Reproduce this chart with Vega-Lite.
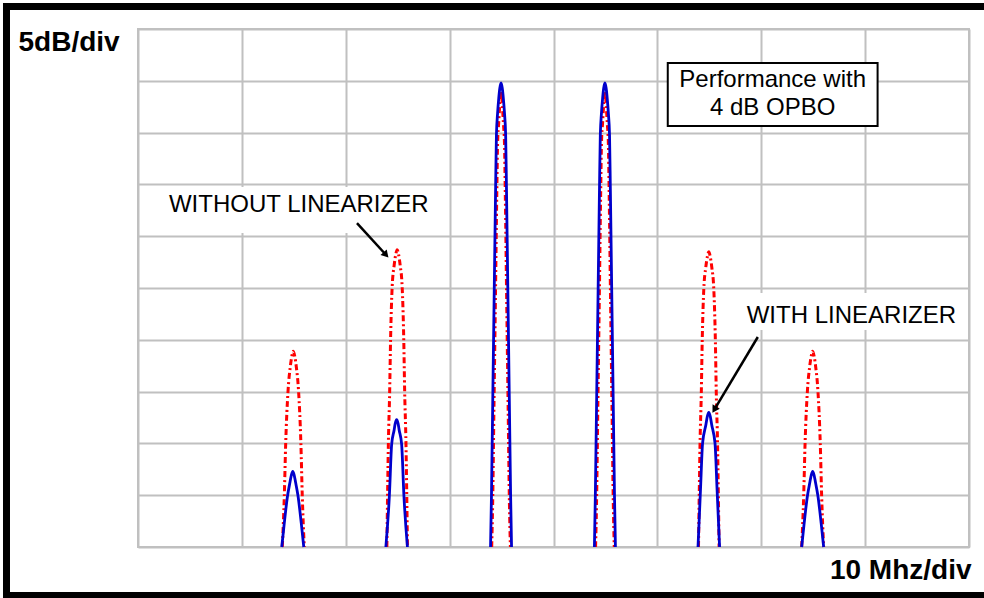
{
  "$schema": "https://vega.github.io/schema/vega-lite/v6.json",
  "width": 831,
  "height": 518,
  "autosize": {"type": "none"},
  "padding": {"left": 138, "top": 29, "right": 15, "bottom": 51},
  "background": "white",
  "config": {
    "font": "Liberation Sans",
    "view": {"stroke": "#c0c0c0", "strokeWidth": 2},
    "axis": {"labels": false, "ticks": false, "domain": false, "grid": true, "gridColor": "#c0c0c0", "gridWidth": 2, "gridOpacity": 1}
  },
  "datasets": {
    "spec": [
      {"s":"r","p":"r1","f":13.891,"db":0},{"s":"r","p":"r1","f":14.084,"db":4.9},{"s":"r","p":"r1","f":14.219,"db":10},{"s":"r","p":"r1","f":14.44,"db":15},{"s":"r","p":"r1","f":14.661,"db":17.4},{"s":"r","p":"r1","f":14.806,"db":18.4},{"s":"r","p":"r1","f":14.95,"db":18.9},{"s":"r","p":"r1","f":15.094,"db":18.4},{"s":"r","p":"r1","f":15.239,"db":17.4},{"s":"r","p":"r1","f":15.46,"db":15},{"s":"r","p":"r1","f":15.681,"db":10},{"s":"r","p":"r1","f":15.816,"db":4.9},{"s":"r","p":"r1","f":16.009,"db":0},
      {"s":"r","p":"r2","f":23.959,"db":0},{"s":"r","p":"r2","f":24.036,"db":5.7},{"s":"r","p":"r2","f":24.103,"db":10},{"s":"r","p":"r2","f":24.228,"db":15},{"s":"r","p":"r2","f":24.315,"db":20},{"s":"r","p":"r2","f":24.469,"db":25.1},{"s":"r","p":"r2","f":24.661,"db":27.2},{"s":"r","p":"r2","f":24.806,"db":28.2},{"s":"r","p":"r2","f":24.95,"db":28.7},{"s":"r","p":"r2","f":25.094,"db":28.2},{"s":"r","p":"r2","f":25.239,"db":27.2},{"s":"r","p":"r2","f":25.431,"db":25.1},{"s":"r","p":"r2","f":25.585,"db":20},{"s":"r","p":"r2","f":25.672,"db":15},{"s":"r","p":"r2","f":25.797,"db":10},{"s":"r","p":"r2","f":25.864,"db":5.7},{"s":"r","p":"r2","f":25.941,"db":0},
      {"s":"r","p":"r3","f":34.05,"db":0},{"s":"r","p":"r3","f":34.14,"db":4},{"s":"r","p":"r3","f":34.275,"db":14},{"s":"r","p":"r3","f":34.41,"db":24},{"s":"r","p":"r3","f":34.54,"db":34},{"s":"r","p":"r3","f":34.62,"db":39},{"s":"r","p":"r3","f":34.73,"db":41},{"s":"r","p":"r3","f":34.85,"db":43},{"s":"r","p":"r3","f":34.95,"db":44},{"s":"r","p":"r3","f":35.05,"db":43},{"s":"r","p":"r3","f":35.17,"db":41},{"s":"r","p":"r3","f":35.28,"db":39},{"s":"r","p":"r3","f":35.36,"db":34},{"s":"r","p":"r3","f":35.49,"db":24},{"s":"r","p":"r3","f":35.625,"db":14},{"s":"r","p":"r3","f":35.76,"db":4},{"s":"r","p":"r3","f":35.85,"db":0},
      {"s":"r","p":"r4","f":44.05,"db":0},{"s":"r","p":"r4","f":44.14,"db":4},{"s":"r","p":"r4","f":44.275,"db":14},{"s":"r","p":"r4","f":44.41,"db":24},{"s":"r","p":"r4","f":44.54,"db":34},{"s":"r","p":"r4","f":44.62,"db":39},{"s":"r","p":"r4","f":44.73,"db":41},{"s":"r","p":"r4","f":44.85,"db":43},{"s":"r","p":"r4","f":44.95,"db":44},{"s":"r","p":"r4","f":45.05,"db":43},{"s":"r","p":"r4","f":45.17,"db":41},{"s":"r","p":"r4","f":45.28,"db":39},{"s":"r","p":"r4","f":45.36,"db":34},{"s":"r","p":"r4","f":45.49,"db":24},{"s":"r","p":"r4","f":45.625,"db":14},{"s":"r","p":"r4","f":45.76,"db":4},{"s":"r","p":"r4","f":45.85,"db":0},
      {"s":"r","p":"r5","f":53.959,"db":0},{"s":"r","p":"r5","f":54.036,"db":5.5},{"s":"r","p":"r5","f":54.103,"db":9.8},{"s":"r","p":"r5","f":54.228,"db":14.8},{"s":"r","p":"r5","f":54.315,"db":19.8},{"s":"r","p":"r5","f":54.469,"db":24.9},{"s":"r","p":"r5","f":54.661,"db":27},{"s":"r","p":"r5","f":54.806,"db":28},{"s":"r","p":"r5","f":54.95,"db":28.5},{"s":"r","p":"r5","f":55.094,"db":28},{"s":"r","p":"r5","f":55.239,"db":27},{"s":"r","p":"r5","f":55.431,"db":24.9},{"s":"r","p":"r5","f":55.585,"db":19.8},{"s":"r","p":"r5","f":55.672,"db":14.8},{"s":"r","p":"r5","f":55.797,"db":9.8},{"s":"r","p":"r5","f":55.864,"db":5.5},{"s":"r","p":"r5","f":55.941,"db":0},
      {"s":"r","p":"r6","f":63.891,"db":0},{"s":"r","p":"r6","f":64.084,"db":4.9},{"s":"r","p":"r6","f":64.219,"db":10},{"s":"r","p":"r6","f":64.44,"db":15},{"s":"r","p":"r6","f":64.661,"db":17.4},{"s":"r","p":"r6","f":64.806,"db":18.4},{"s":"r","p":"r6","f":64.95,"db":18.9},{"s":"r","p":"r6","f":65.094,"db":18.4},{"s":"r","p":"r6","f":65.239,"db":17.4},{"s":"r","p":"r6","f":65.46,"db":15},{"s":"r","p":"r6","f":65.681,"db":10},{"s":"r","p":"r6","f":65.816,"db":4.9},{"s":"r","p":"r6","f":66.009,"db":0},
      {"s":"b","p":"b1","f":13.841,"db":0},{"s":"b","p":"b1","f":14.082,"db":2.3},{"s":"b","p":"b1","f":14.39,"db":4.9},{"s":"b","p":"b1","f":14.64,"db":6.3},{"s":"b","p":"b1","f":14.756,"db":6.9},{"s":"b","p":"b1","f":14.9,"db":7.3},{"s":"b","p":"b1","f":15.044,"db":6.9},{"s":"b","p":"b1","f":15.16,"db":6.3},{"s":"b","p":"b1","f":15.41,"db":4.9},{"s":"b","p":"b1","f":15.718,"db":2.3},{"s":"b","p":"b1","f":15.959,"db":0},
      {"s":"b","p":"b2","f":23.861,"db":0},{"s":"b","p":"b2","f":24.197,"db":4.9},{"s":"b","p":"b2","f":24.419,"db":9.9},{"s":"b","p":"b2","f":24.659,"db":11.3},{"s":"b","p":"b2","f":24.756,"db":11.9},{"s":"b","p":"b2","f":24.9,"db":12.3},{"s":"b","p":"b2","f":25.044,"db":11.9},{"s":"b","p":"b2","f":25.141,"db":11.3},{"s":"b","p":"b2","f":25.381,"db":9.9},{"s":"b","p":"b2","f":25.603,"db":4.9},{"s":"b","p":"b2","f":25.939,"db":0},
      {"s":"b","p":"b3","f":33.939,"db":0},{"s":"b","p":"b3","f":34.026,"db":4.8},{"s":"b","p":"b3","f":34.161,"db":14.8},{"s":"b","p":"b3","f":34.296,"db":24.8},{"s":"b","p":"b3","f":34.43,"db":34.8},{"s":"b","p":"b3","f":34.507,"db":39.8},{"s":"b","p":"b3","f":34.613,"db":41.8},{"s":"b","p":"b3","f":34.729,"db":43.3},{"s":"b","p":"b3","f":34.835,"db":44.3},{"s":"b","p":"b3","f":34.95,"db":44.8},{"s":"b","p":"b3","f":35.065,"db":44.3},{"s":"b","p":"b3","f":35.171,"db":43.3},{"s":"b","p":"b3","f":35.287,"db":41.8},{"s":"b","p":"b3","f":35.393,"db":39.8},{"s":"b","p":"b3","f":35.47,"db":34.8},{"s":"b","p":"b3","f":35.604,"db":24.8},{"s":"b","p":"b3","f":35.739,"db":14.8},{"s":"b","p":"b3","f":35.874,"db":4.8},{"s":"b","p":"b3","f":35.961,"db":0},
      {"s":"b","p":"b4","f":43.939,"db":0},{"s":"b","p":"b4","f":44.026,"db":4.8},{"s":"b","p":"b4","f":44.161,"db":14.8},{"s":"b","p":"b4","f":44.296,"db":24.8},{"s":"b","p":"b4","f":44.43,"db":34.8},{"s":"b","p":"b4","f":44.507,"db":39.8},{"s":"b","p":"b4","f":44.613,"db":41.8},{"s":"b","p":"b4","f":44.729,"db":43.3},{"s":"b","p":"b4","f":44.835,"db":44.3},{"s":"b","p":"b4","f":44.95,"db":44.8},{"s":"b","p":"b4","f":45.065,"db":44.3},{"s":"b","p":"b4","f":45.171,"db":43.3},{"s":"b","p":"b4","f":45.287,"db":41.8},{"s":"b","p":"b4","f":45.393,"db":39.8},{"s":"b","p":"b4","f":45.47,"db":34.8},{"s":"b","p":"b4","f":45.604,"db":24.8},{"s":"b","p":"b4","f":45.739,"db":14.8},{"s":"b","p":"b4","f":45.874,"db":4.8},{"s":"b","p":"b4","f":45.961,"db":0},
      {"s":"b","p":"b5","f":53.911,"db":0},{"s":"b","p":"b5","f":54.15,"db":5.5},{"s":"b","p":"b5","f":54.35,"db":10},{"s":"b","p":"b5","f":54.67,"db":11.8},{"s":"b","p":"b5","f":54.806,"db":12.6},{"s":"b","p":"b5","f":54.95,"db":13},{"s":"b","p":"b5","f":55.094,"db":12.6},{"s":"b","p":"b5","f":55.23,"db":11.8},{"s":"b","p":"b5","f":55.55,"db":10},{"s":"b","p":"b5","f":55.75,"db":5.5},{"s":"b","p":"b5","f":55.989,"db":0},
      {"s":"b","p":"b6","f":63.891,"db":0},{"s":"b","p":"b6","f":64.132,"db":2.3},{"s":"b","p":"b6","f":64.44,"db":4.9},{"s":"b","p":"b6","f":64.69,"db":6.3},{"s":"b","p":"b6","f":64.806,"db":6.9},{"s":"b","p":"b6","f":64.95,"db":7.3},{"s":"b","p":"b6","f":65.094,"db":6.9},{"s":"b","p":"b6","f":65.21,"db":6.3},{"s":"b","p":"b6","f":65.46,"db":4.9},{"s":"b","p":"b6","f":65.768,"db":2.3},{"s":"b","p":"b6","f":66.009,"db":0}
    ],
    "frame": [{"x": -12.66, "x2": 85, "y": 52.17, "y2": -4.68}],
    "labelbg": [
      {"x": 2.31, "x2": 29.07, "y": 34.75, "y2": 30.31},
      {"x": 58.13, "x2": 79.69, "y": 24.52, "y2": 20.95}
    ],
    "box": [{"x": 51.0, "x2": 71.2, "y": 46.72, "y2": 40.64}],
    "boxtext": [
      {"t": "Performance with", "x": 61.1, "y": 44.4},
      {"t": "4 dB OPBO", "x": 61.1, "y": 41.7}
    ],
    "without": [{"t": "WITHOUT LINEARIZER", "x": 2.98, "y": 32.3}],
    "with": [{"t": "WITH LINEARIZER", "x": 58.6, "y": 21.6}],
    "arrows": [
      {"x": 21.08, "y": 31.27, "x2": 23.8, "y2": 28.28, "ang": 138},
      {"x": 59.67, "y": 20.27, "x2": 55.54, "y2": 13.36, "ang": 211}
    ]
  },
  "layer": [
    {
      "data": {"name": "spec"},
      "transform": [{"filter": "datum.s === 'r'"}],
      "mark": {"type": "line", "color": "#ff0000", "strokeWidth": 3, "strokeDash": [6, 3, 2, 3], "interpolate": "monotone"},
      "encoding": {
        "x": {"field": "f", "type": "quantitative", "scale": {"domain": [0, 80]}, "axis": {"values": [0, 10, 20, 30, 40, 50, 60, 70, 80], "title": "10 Mhz/div", "titleFontSize": 28, "titleFontWeight": "bold", "titleColor": "black", "titleAlign": "right", "titleBaseline": "alphabetic", "titleX": 833, "titleY": 31}},
        "y": {"field": "db", "type": "quantitative", "scale": {"domain": [0, 50]}, "axis": {"values": [0, 5, 10, 15, 20, 25, 30, 35, 40, 45, 50], "title": "5dB/div", "titleFontSize": 28, "titleFontWeight": "bold", "titleColor": "black", "titleAngle": 0, "titleAlign": "left", "titleBaseline": "alphabetic", "titleX": -120, "titleY": 21}},
        "detail": {"field": "p"}
      }
    },
    {
      "data": {"name": "spec"},
      "transform": [{"filter": "datum.s === 'b'"}],
      "mark": {"type": "line", "color": "#0000cc", "strokeWidth": 2.8, "interpolate": "monotone"},
      "encoding": {
        "x": {"field": "f", "type": "quantitative"},
        "y": {"field": "db", "type": "quantitative"},
        "detail": {"field": "p"}
      }
    },
    {
      "data": {"name": "frame"},
      "mark": {"type": "rect", "fill": null, "stroke": "black", "strokeWidth": 7, "clip": false},
      "encoding": {
        "x": {"field": "x", "type": "quantitative"},
        "x2": {"field": "x2"},
        "y": {"field": "y", "type": "quantitative"},
        "y2": {"field": "y2"}
      }
    },
    {
      "data": {"name": "labelbg"},
      "mark": {"type": "rect", "fill": "white", "stroke": null},
      "encoding": {
        "x": {"field": "x", "type": "quantitative"},
        "x2": {"field": "x2"},
        "y": {"field": "y", "type": "quantitative"},
        "y2": {"field": "y2"}
      }
    },
    {
      "data": {"name": "box"},
      "mark": {"type": "rect", "fill": "white", "stroke": "black", "strokeWidth": 2},
      "encoding": {
        "x": {"field": "x", "type": "quantitative"},
        "x2": {"field": "x2"},
        "y": {"field": "y", "type": "quantitative"},
        "y2": {"field": "y2"}
      }
    },
    {
      "data": {"name": "boxtext"},
      "mark": {"type": "text", "fontSize": 24, "align": "center", "baseline": "alphabetic", "color": "black"},
      "encoding": {
        "x": {"field": "x", "type": "quantitative"},
        "y": {"field": "y", "type": "quantitative"},
        "text": {"field": "t"}
      }
    },
    {
      "data": {"name": "without"},
      "mark": {"type": "text", "fontSize": 24, "align": "left", "baseline": "alphabetic", "color": "black"},
      "encoding": {
        "x": {"field": "x", "type": "quantitative"},
        "y": {"field": "y", "type": "quantitative"},
        "text": {"field": "t"}
      }
    },
    {
      "data": {"name": "with"},
      "mark": {"type": "text", "fontSize": 24, "align": "left", "baseline": "alphabetic", "color": "black"},
      "encoding": {
        "x": {"field": "x", "type": "quantitative"},
        "y": {"field": "y", "type": "quantitative"},
        "text": {"field": "t"}
      }
    },
    {
      "data": {"name": "arrows"},
      "mark": {"type": "rule", "color": "black", "strokeWidth": 2.5},
      "encoding": {
        "x": {"field": "x", "type": "quantitative"},
        "y": {"field": "y", "type": "quantitative"},
        "x2": {"field": "x2"},
        "y2": {"field": "y2"}
      }
    },
    {
      "data": {"name": "arrows"},
      "mark": {"type": "point", "shape": "triangle", "filled": true, "color": "black", "size": 70, "opacity": 1},
      "encoding": {
        "x": {"field": "x2", "type": "quantitative"},
        "y": {"field": "y2", "type": "quantitative"},
        "angle": {"field": "ang", "type": "quantitative", "scale": null}
      }
    }
  ]
}
